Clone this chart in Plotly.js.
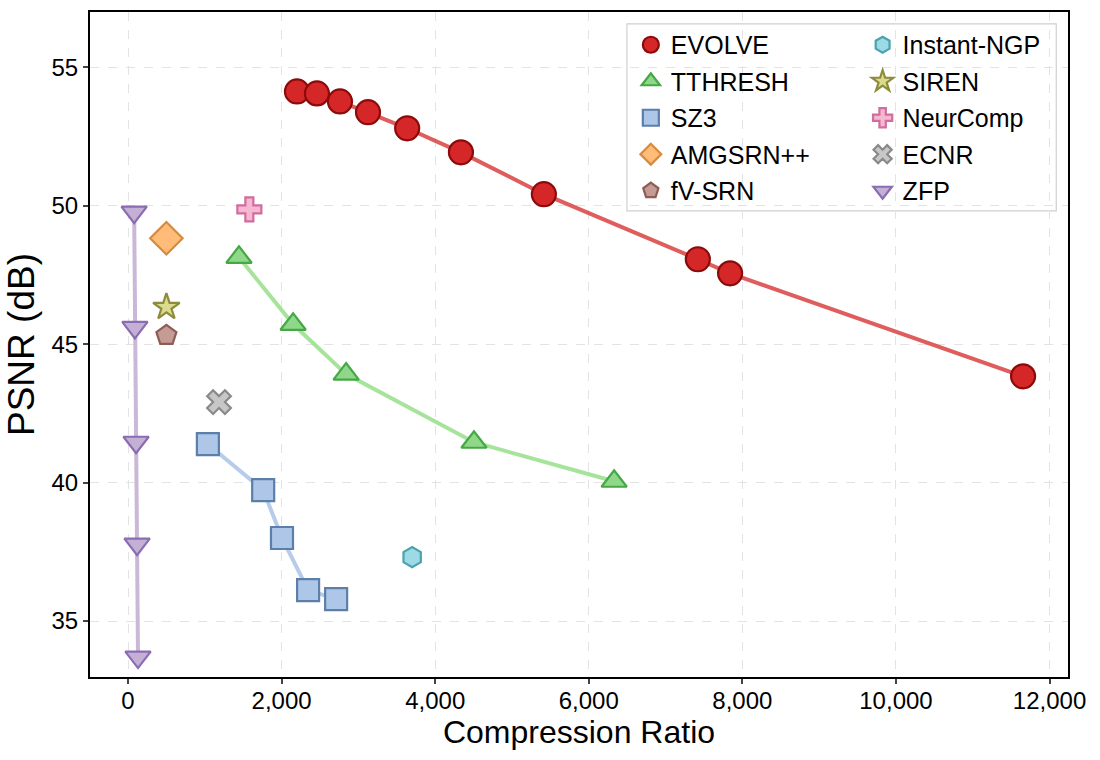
<!DOCTYPE html>
<html><head><meta charset="utf-8">
<script src="https://cdn.plot.ly/plotly-3.0.1.min.js"></script>
<style>body{margin:0;background:#fff}#c{width:1100px;height:760px}</style>
</head><body><div id="c"></div>
<script>
const evolveX = [2200, 2460, 2760, 3125, 3635, 4335, 5415, 7420, 7840, 11655];
const evolveY = [54.13, 54.06, 53.77, 53.38, 52.80, 51.93, 50.42, 48.07, 47.56, 43.84];
const tthreshX = [1445, 2150, 2840, 4505, 6330];
const tthreshY = [48.14, 45.72, 43.92, 41.46, 40.05];
const sz3X = [1040, 1760, 2005, 2345, 2710];
const sz3Y = [41.39, 39.73, 38.0, 36.12, 35.79];
const zfpX = [80, 90, 105, 118, 130];
const zfpY = [49.77, 45.61, 41.46, 37.78, 33.70];
const amgX = [500], amgY = [48.83];
const fvX = [500], fvY = [45.32];
const sirenX = [500], sirenY = [46.34];
const neurX = [1580], neurY = [49.87];
const ecnrX = [1185], ecnrY = [42.91];
const ingpX = [3700], ingpY = [37.31];

function lineTr(x, y, lc) {
  return {type:'scatter', x, y, mode:'lines', showlegend:false, hoverinfo:'skip',
    line:{color:lc, width:4}};
}
function mk(name, x, y, sym, size, fill, edge, legend) {
  return {type:'scatter', name, x, y, mode:'markers', legend, legendgroup:name,
    marker:{symbol:sym, size, color:fill, line:{color:edge, width:2.2}}};
}
const data = [
  lineTr(zfpX, zfpY, 'rgba(197,176,213,0.9)'),
  lineTr(sz3X, sz3Y, 'rgba(174,199,232,0.9)'),
  lineTr(tthreshX, tthreshY, 'rgba(152,223,138,0.85)'),
  lineTr(evolveX, evolveY, 'rgba(214,39,40,0.75)'),
  mk('ZFP', zfpX, zfpY, 'triangle-down', 22, '#c5b0d5', '#8a6cb2', 'legend2'),
  mk('SZ3', sz3X, sz3Y, 'square', 22, '#aec7e8', '#5b7fa9', 'legend'),
  mk('TTHRESH', tthreshX, tthreshY, 'triangle-up', 22, '#8fd88a', '#45a845', 'legend'),
  mk('EVOLVE', evolveX, evolveY, 'circle', 24, '#d62728', '#8b0a0a', 'legend'),
  mk('AMGSRN++', amgX, amgY, 'diamond', 25, '#ffbb78', '#d68a3c', 'legend'),
  mk('fV-SRN', fvX, fvY, 'pentagon', 21, '#c49c94', '#8c5d55', 'legend'),
  mk('Instant-NGP', ingpX, ingpY, 'hexagon', 20, '#9edae5', '#4aa3ad', 'legend2'),
  mk('SIREN', sirenX, sirenY, 'star', 20, '#dbdb8d', '#8c8c3c', 'legend2'),
  mk('NeurComp', neurX, neurY, 'cross', 20, '#f7b6d2', '#d06d9d', 'legend2'),
  mk('ECNR', ecnrX, ecnrY, 'x', 21, '#c7c7c7', '#8a8a8a', 'legend2'),
];
const order1 = ['EVOLVE','TTHRESH','SZ3','AMGSRN++','fV-SRN'];
const order2 = ['Instant-NGP','SIREN','NeurComp','ECNR','ZFP'];
data.forEach(t => {
  if (!t.name) return;
  const i1 = order1.indexOf(t.name), i2 = order2.indexOf(t.name);
  t.legendrank = (i1 >= 0 ? i1 : i2) + 1;
});
const font = {family:'Arial, Liberation Sans, sans-serif', color:'#000'};
const legBase = {font:{...font, size:25}, bgcolor:'rgba(0,0,0,0)', borderwidth:0,
  traceorder:'grouped', tracegroupgap:1, yanchor:'top', xanchor:'left', itemsizing:'trace'};
const layout = {
  width:1100, height:760,
  margin:{l:90, r:32, t:12, b:83},
  paper_bgcolor:'#fff', plot_bgcolor:'#fff',
  font:{...font, size:24},
  showlegend:true,
  xaxis:{range:[-495, 12240], tickvals:[0,2000,4000,6000,8000,10000,12000], tickformat:',',
    showline:true, linecolor:'#000', linewidth:2, mirror:true, ticks:'outside', ticklen:5, tickwidth:1.5,
    showgrid:true, gridcolor:'#e3e3e3', griddash:'dash', gridwidth:1, zeroline:false,
    tickfont:{...font, size:24}, ticklabelstandoff:-4,
    title:{text:'Compression Ratio', font:{...font, size:32}, standoff:6}},
  yaxis:{range:[32.98, 57.0], tickvals:[35,40,45,50,55],
    showline:true, linecolor:'#000', linewidth:2, mirror:true, ticks:'outside', ticklen:5, tickwidth:1.5,
    showgrid:true, gridcolor:'#e3e3e3', griddash:'dash', gridwidth:1, zeroline:false,
    tickfont:{...font, size:24},
    title:{text:'PSNR (dB)', font:{...font, size:37}, standoff:6}},
  legend:{...legBase, x:0.553, y:0.985},
  legend2:{...legBase, x:0.79, y:0.985},
  shapes:[{type:'rect', xref:'paper', yref:'paper', x0:0.549, x1:0.988, y0:0.701, y1:0.982,
    line:{color:'#d0d0d0', width:1.2}, fillcolor:'rgba(255,255,255,0.85)', layer:'below'}]
};
Plotly.newPlot('c', data, layout, {displayModeBar:false});
</script></body></html>
